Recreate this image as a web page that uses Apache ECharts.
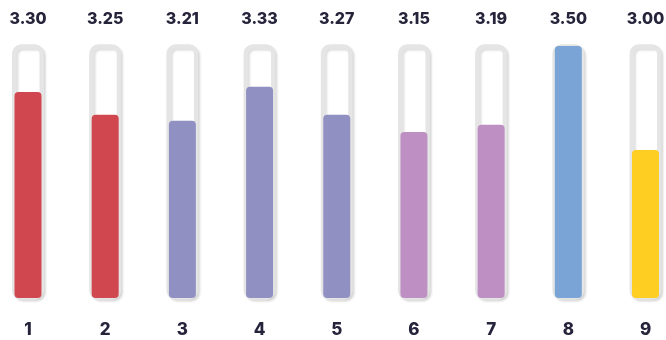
<!DOCTYPE html>
<html>
<head>
<meta charset="utf-8">
<script src="https://cdn.jsdelivr.net/npm/echarts@6/dist/echarts.min.js"></script>
<style>html,body{margin:0;padding:0;background:#fff;}#c{width:666px;height:340px;}</style>
</head>
<body>
<div id="c"></div>
<script>
const categories = ['1','2','3','4','5','6','7','8','9'];
const valueLabels = ['3.30','3.25','3.21','3.33','3.27','3.15','3.19','3.50','3.00'];
const barValues = [3.281, 3.173, 3.144, 3.306, 3.173, 3.090, 3.125, 3.500, 3.005];
const barColors = ['#d1474f','#d1474f','#9091c2','#9091c2','#9091c2','#bd8fc3','#bd8fc3','#7aa4d5','#fecf22'];
const trackValues = [1,1,1,1,1,1,1,1,1];

const chart = echarts.init(document.getElementById('c'), null, {renderer:'canvas'});
const textColor = '#26243b';
const fontFam = 'Inter, "DejaVu Sans", sans-serif';
chart.setOption({
  animation: false,
  backgroundColor: '#ffffff',
  grid: [
    {left: 28, right: 20.5, top: 44.25, height: 255.5},
    {left: 28, right: 20.5, top: 46, height: 252}
  ],
  xAxis: [
    {gridIndex: 0, type: 'category', data: categories, boundaryGap: false,
     axisLine: {show: false}, axisTick: {show: false}, axisLabel: {show: false}, splitLine: {show: false}},
    {gridIndex: 1, type: 'category', data: categories, boundaryGap: false,
     axisLine: {show: false}, axisTick: {show: false}, splitLine: {show: false},
     axisLabel: {show: true, margin: 23, color: textColor, fontSize: 17, fontWeight: 800, fontFamily: fontFam}}
  ],
  yAxis: [
    {gridIndex: 0, type: 'value', min: 0, max: 1, show: false},
    {gridIndex: 1, type: 'value', min: 2.3, max: 3.5, show: false}
  ],
  series: [
    {
      type: 'bar', xAxisIndex: 0, yAxisIndex: 0, data: trackValues, barWidth: 32, z: 2,
      itemStyle: {color: '#ffffff', borderColor: '#e5e5e5', borderWidth: 4.5, borderRadius: 7,
        shadowColor: 'rgba(0,0,0,0.12)', shadowBlur: 2, shadowOffsetX: 2, shadowOffsetY: 2},
      label: {show: true, position: 'top', distance: 17, color: textColor, fontSize: 16, fontWeight: 800,
        fontFamily: fontFam, formatter: p => valueLabels[p.dataIndex]},
      silent: true
    },
    {
      type: 'bar', xAxisIndex: 1, yAxisIndex: 1, barWidth: 27, z: 3,
      data: barValues.map((v, i) => ({value: v, itemStyle: {color: barColors[i]}})),
      itemStyle: {borderRadius: 4}
    }
  ]
});
</script>
</body>
</html>
